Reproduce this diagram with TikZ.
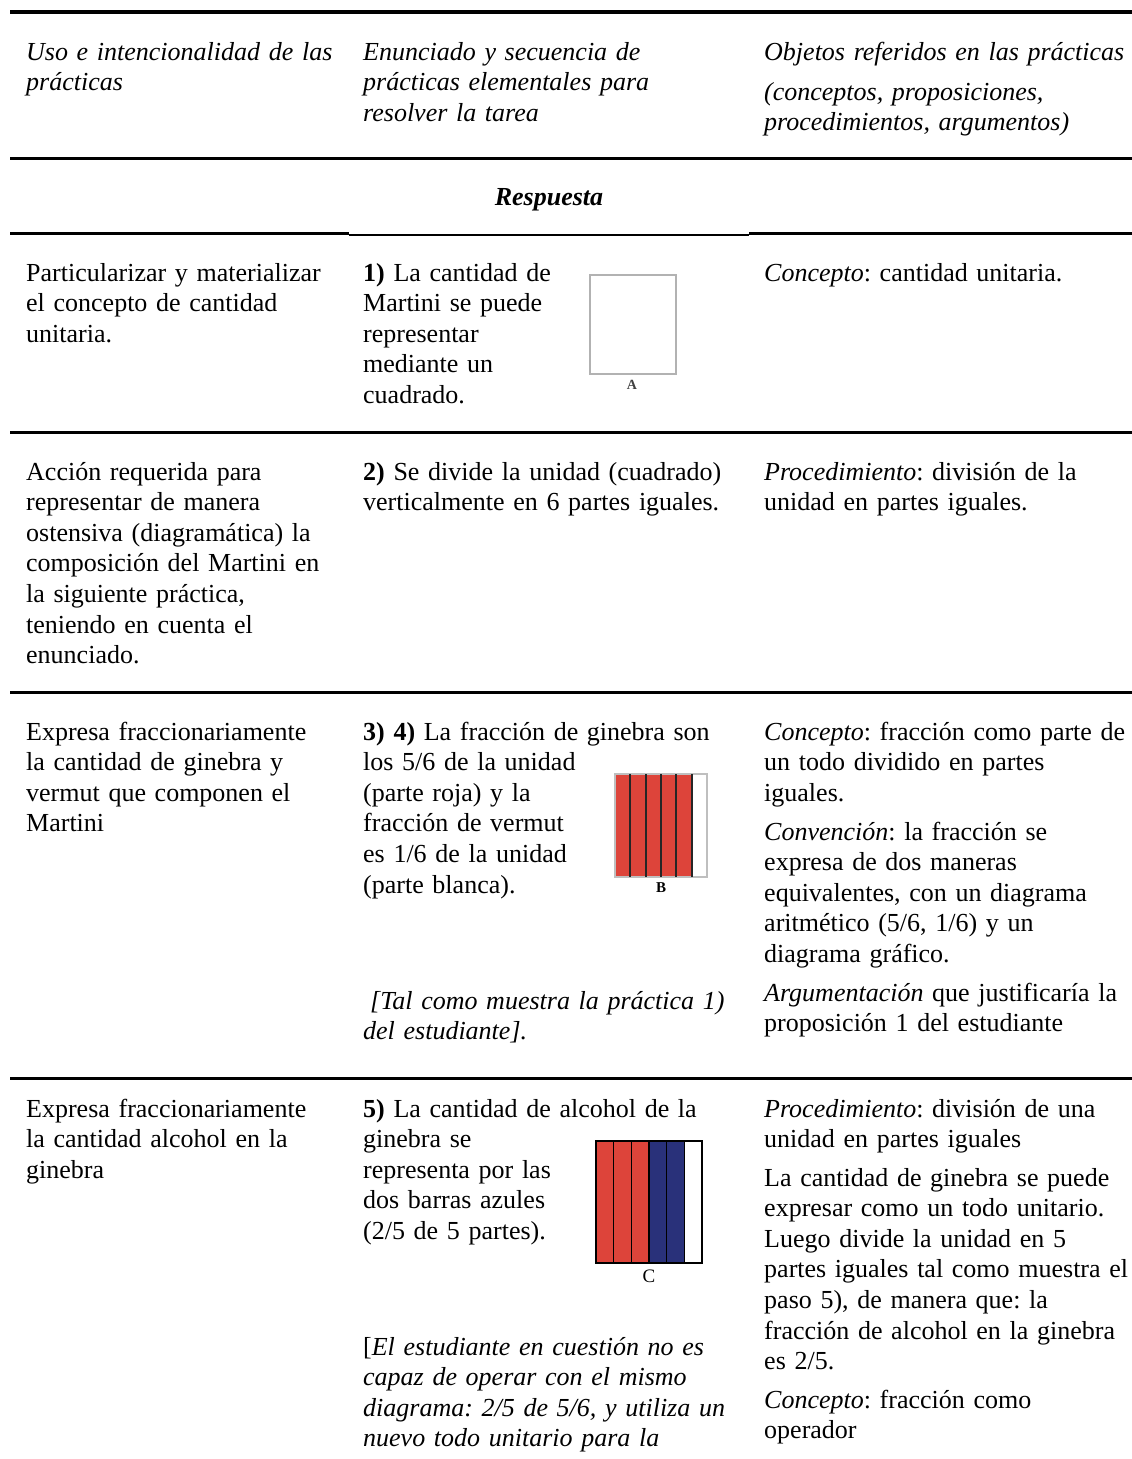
\documentclass[tikz,border=0pt]{standalone}
\usepackage{fontspec}
\setmainfont{Liberation Serif}
\usepackage{tikz}
\usetikzlibrary{positioning}
\definecolor{barred}{RGB}{221,68,58}
\definecolor{barblue}{RGB}{41,49,122}
\frenchspacing

\begin{document}
\begin{tikzpicture}[x=1pt,y=-1pt,
  txt/.style={anchor=base west,inner sep=0pt,align=left,text width=400pt,
    font=\fontsize{26}{30.6}\selectfont},
  rule/.style={line width=2.5pt},
  lbl/.style={inner sep=0pt,font=\fontsize{15}{15}\selectfont\bfseries}]
  \useasboundingbox (0,0) rectangle (1132,1459);
  \draw[line width=4pt] (10,12) -- (1132,12);
  \draw[line width=3pt] (10,158.5) -- (1132,158.5);
  \draw[rule] (10,233.5) -- (349,233.5);
  \draw[rule] (349,235) -- (749,235);
  \draw[rule] (749,233.5) -- (1132,233.5);
  \draw[rule] (10,432.5) -- (1132,432.5);
  \draw[rule] (10,692.5) -- (1132,692.5);
  \draw[rule] (10,1078.5) -- (1132,1078.5);

  \node[txt] (hdUso) at (26,60) {\itshape Uso e intencionalidad de las\\ \itshape prácticas};
  \node[txt] (hdEnun) at (363,60) {\itshape Enunciado y secuencia de\\ \itshape prácticas elementales para\\ \itshape resolver la tarea};
  \node[txt] (hdObj) at (764,60) {\itshape Objetos referidos en las prácticas};
  \node[txt] (hdObjB) at (764,100) {\itshape (conceptos, proposiciones,\\ \itshape procedimientos, argumentos)};
  \node[anchor=base,inner sep=0pt,font=\fontsize{26}{30.6}\selectfont] (resp) at (549,205) {\bfseries\itshape Respuesta};

  \node[txt] (usoA) at (26,281) {Particularizar y materializar\\ el concepto de cantidad\\ unitaria.};
  \node[txt] (enunA) at (363,281) {\textbf{1)} La cantidad de\\ Martini se puede\\ representar\\ mediante un\\ cuadrado.};
  \node[txt] (objA) at (764,281) {\emph{Concepto}: cantidad unitaria.};
  \draw[gray!60,line width=1.5pt] (590,275) rectangle (676,374);
  \node[lbl,font=\fontsize{14}{14}\selectfont\bfseries,text=black!75] (figA) at (632,385) {A};

  \node[txt] (usoB) at (26,480) {Acción requerida para\\ representar de manera\\ ostensiva (diagramática) la\\ composición del Martini en\\ la siguiente práctica,\\ teniendo en cuenta el\\ enunciado.};
  \node[txt] (enunB) at (363,480) {\textbf{2)} Se divide la unidad (cuadrado)\\ verticalmente en 6 partes iguales.};
  \node[txt] (objB) at (764,480) {\emph{Procedimiento}: división de la\\ unidad en partes iguales.};

  \node[txt] (usoC) at (26,740) {Expresa fraccionariamente\\ la cantidad de ginebra y\\ vermut que componen el\\ Martini};
  \node[txt] (enunC) at (363,740) {\textbf{3) 4)} La fracción de ginebra son\\ los 5/6 de la unidad\\ (parte roja) y la\\ fracción de vermut\\ es 1/6 de la unidad\\ (parte blanca).};
  \node[txt] (enunCb) at (363,1009) {\hspace*{7pt}\itshape [Tal como muestra la práctica 1)\\ \itshape del estudiante].};
  \node[txt] (objC) at (764,740) {\emph{Concepto}: fracción como parte de\\ un todo dividido en partes\\ iguales.};
  \node[txt] (objCb) at (764,840) {\emph{Convención}: la fracción se\\ expresa de dos maneras\\ equivalentes, con un diagrama\\ aritmético (5/6, 1/6) y un\\ diagrama gráfico.};
  \node[txt] (objCc) at (764,1001) {\emph{Argumentación} que justificaría la\\ proposición 1 del estudiante};
  \fill[barred] (615,774) rectangle (691.7,877);
  \draw[gray!50,line width=1.2pt] (615,774) rectangle (707,877);
  \foreach \i in {1,...,5}
    \draw[black!85,line width=1.8pt] (615+15.33*\i,774) -- (615+15.33*\i,877);
  \node[lbl] (figB) at (661,888) {B};

  \node[txt] (usoD) at (26,1117) {Expresa fraccionariamente\\ la cantidad alcohol en la\\ ginebra};
  \node[txt] (enunD) at (363,1117) {\textbf{5)} La cantidad de alcohol de la\\ ginebra se\\ representa por las\\ dos barras azules\\ (2/5 de 5 partes).};
  \node[txt] (enunDb) at (363,1355) {[\itshape El estudiante en cuestión no es\\ \itshape capaz de operar con el mismo\\ \itshape diagrama: 2/5 de 5/6, y utiliza un\\ \itshape nuevo todo unitario para la};
  \node[txt] (objD) at (764,1117) {\emph{Procedimiento}: división de una\\ unidad en partes iguales};
  \node[txt] (objDb) at (764,1186) {La cantidad de ginebra se puede\\ expresar como un todo unitario.\\ Luego divide la unidad en 5\\ partes iguales tal como muestra el\\ paso 5), de manera que: la\\ fracción de alcohol en la ginebra\\ es 2/5.};
  \node[txt] (objDc) at (764,1408) {\emph{Concepto}: fracción como\\ operador};
  \fill[barred] (596,1141) rectangle (649,1263);
  \fill[barblue] (649,1141) rectangle (684.3,1263);
  \foreach \i in {1,...,5}
    \draw[black,line width=1.5pt] (596+17.67*\i,1141) -- (596+17.67*\i,1263);
  \draw[black,line width=1.5pt] (596,1141) rectangle (702,1263);
  \node[lbl,font=\fontsize{19}{19}\selectfont] (figC) at (649,1276) {C};
\end{tikzpicture}
\end{document}
